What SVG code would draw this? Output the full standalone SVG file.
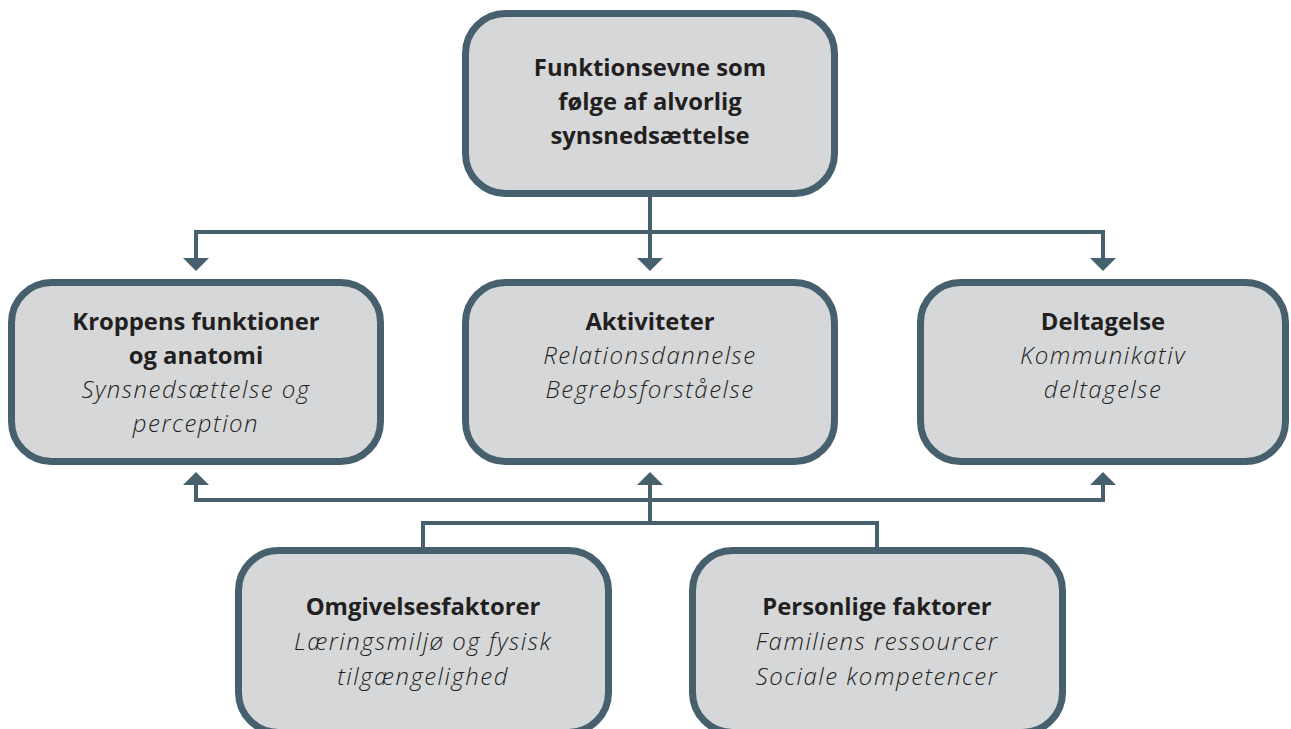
<svg xmlns="http://www.w3.org/2000/svg" width="1291" height="729" viewBox="0 0 1291 729">
<defs>
<style>
.box{fill:#d6d7d9;stroke:#46606e;stroke-width:7}
.ln{fill:none;stroke:#46606e;stroke-width:4}
.ah{fill:#46606e}
.t{font-family:"Open Sans","Noto Sans",sans-serif;font-weight:700;font-size:23.8px;fill:#231f20;text-anchor:middle}
.s{font-family:"Open Sans","Noto Sans",sans-serif;font-weight:300;font-style:italic;font-size:24px;fill:#231f20;text-anchor:middle;letter-spacing:1.5px}
</style>
</defs>
<rect width="1291" height="729" fill="#ffffff"/>
<g id="connectors">
<path class="ln" d="M650 195 V260 M196 260 V232 H1103 V260"/>
<polygon class="ah" points="183,258 209,258 196,271"/>
<polygon class="ah" points="637,258 663,258 650,271"/>
<polygon class="ah" points="1090,258 1116,258 1103,271"/>
<path class="ln" d="M196 484 V500 H1103 V484 M650 484 V523 M423 548 V523 H877 V548"/>
<polygon class="ah" points="183,485 209,485 196,472"/>
<polygon class="ah" points="637,485 663,485 650,472"/>
<polygon class="ah" points="1090,485 1116,485 1103,472"/>
</g>
<g id="top">
<rect class="box" x="465.5" y="13.5" width="369" height="180" rx="40"/>
<text class="t" x="650" y="76">Funktionsevne som</text>
<text class="t" x="650" y="110">følge af alvorlig</text>
<text class="t" x="650" y="144">synsnedsættelse</text>
</g>
<g id="kroppen">
<rect class="box" x="11.5" y="282.5" width="369" height="179" rx="40"/>
<text class="t" x="196" y="330">Kroppens funktioner</text>
<text class="t" x="196" y="364">og anatomi</text>
<text class="s" x="196" y="398">Synsnedsættelse og</text>
<text class="s" x="196" y="432">perception</text>
</g>
<g id="aktiviteter">
<rect class="box" x="465.5" y="282.5" width="369" height="179" rx="40"/>
<text class="t" x="650" y="330">Aktiviteter</text>
<text class="s" x="650" y="364">Relationsdannelse</text>
<text class="s" x="650" y="398">Begrebsforståelse</text>
</g>
<g id="deltagelse">
<rect class="box" x="920.5" y="282.5" width="365" height="179" rx="40"/>
<text class="t" x="1103" y="330">Deltagelse</text>
<text class="s" x="1103" y="364">Kommunikativ</text>
<text class="s" x="1103" y="398">deltagelse</text>
</g>
<g id="omgivelser">
<rect class="box" x="238.5" y="550.5" width="370" height="182" rx="40"/>
<text class="t" x="423" y="615">Omgivelsesfaktorer</text>
<text class="s" x="423" y="650">Læringsmiljø og fysisk</text>
<text class="s" x="423" y="685">tilgængelighed</text>
</g>
<g id="personlige">
<rect class="box" x="692.5" y="550.5" width="370" height="182" rx="40"/>
<text class="t" x="877" y="615">Personlige faktorer</text>
<text class="s" x="877" y="650">Familiens ressourcer</text>
<text class="s" x="877" y="685">Sociale kompetencer</text>
</g>
</svg>
